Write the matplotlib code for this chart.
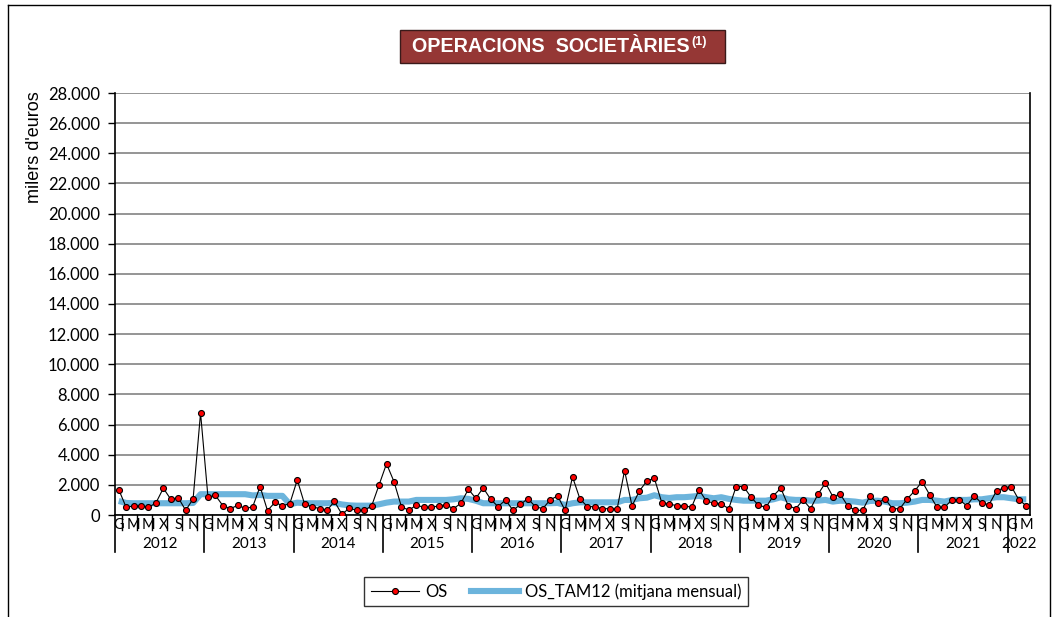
import matplotlib
matplotlib.use("Agg")
import matplotlib.pyplot as plt
from matplotlib.patches import Rectangle
from matplotlib.lines import Line2D
import numpy as np

# ---------------- data ----------------
years = ["2012", "2013", "2014", "2015", "2016", "2017", "2018", "2019", "2020", "2021", "2022"]
month_letters = ["G", "F", "M", "A", "M", "J", "X", "A", "S", "O", "N", "D"]

os_values = [
    1690, 510, 600, 600, 510, 800, 1780, 1040, 1150, 310, 1070, 6770,      # 2012
    1180, 1300, 620, 420, 640, 440, 530, 1890, 290, 840, 620, 750,         # 2013
    2330, 700, 555, 420, 310, 900, 50, 450, 310, 310, 600, 2000,           # 2014
    3400, 2220, 555, 310, 660, 510, 510, 600, 670, 420, 780, 1710,         # 2015
    1110, 1800, 1040, 555, 1000, 310, 700, 1090, 555, 420, 1000, 1270,     # 2016
    310, 2530, 1070, 555, 555, 420, 420, 400, 2950, 600, 1600, 2260,       # 2017
    2440, 820, 730, 620, 620, 510, 1690, 910, 800, 730, 420, 1890,         # 2018
    1890, 1180, 650, 510, 1270, 1780, 620, 420, 1000, 420, 1380, 2130,     # 2019
    1220, 1380, 600, 310, 310, 1270, 780, 1090, 420, 420, 1070, 1600,      # 2020
    2220, 1350, 510, 510, 1000, 1000, 620, 1270, 780, 690, 1600, 1800,     # 2021
    1890, 1000, 620,                                                       # 2022
]

tam12_values = [
    930, 800, 780, 780, 780, 780, 780, 780, 780, 780, 800, 1380,
    1380, 1380, 1380, 1380, 1380, 1380, 1300, 1330, 1270, 1270, 1270, 710,
    820, 780, 780, 780, 780, 800, 700, 640, 620, 620, 620, 710,
    820, 890, 890, 890, 1000, 1000, 1000, 1000, 1000, 1040, 1110, 1070,
    950, 780, 780, 780, 780, 780, 780, 780, 780, 780, 780, 800,
    670, 780, 840, 840, 840, 840, 840, 840, 1000, 1000, 1110, 1150,
    1310, 1180, 1130, 1180, 1180, 1220, 1270, 1180, 1110, 1180, 1070, 1000,
    950, 950, 950, 950, 1040, 1180, 1040, 1000, 1000, 950, 950, 1000,
    890, 950, 930, 890, 820, 930, 950, 890, 780, 780, 820, 890,
    1000, 1000, 950, 890, 1000, 1000, 1000, 1040, 1040, 1110, 1180, 1180,
    1110, 1040, 1040,
]

y_ticks = list(range(0, 28001, 2000))
y_tick_labels = [f"{v:,}".replace(",", ".") for v in y_ticks]

title_text = "OPERACIONS  SOCIETÀRIES"
y_label = "milers d'euros"
legend_labels = ["OS", "OS_TAM12 (mitjana mensual)"]

# ---------------- figure ----------------
W, H = 1059, 617
fig = plt.figure(figsize=(W / 100, H / 100), dpi=100)
fig.patch.set_facecolor("white")

# outer border (bottom edge lies below the image)
fig.add_artist(Line2D([8 / W, 1050 / W], [1 - 5 / H, 1 - 5 / H], transform=fig.transFigure, color="black", lw=1))
fig.add_artist(Line2D([8 / W, 8 / W], [1 - 5 / H, 0], transform=fig.transFigure, color="black", lw=1))
fig.add_artist(Line2D([1050 / W, 1050 / W], [1 - 5 / H, 0], transform=fig.transFigure, color="black", lw=1))

left, right, top, bottom = 115, 1030, 93, 515
ax = fig.add_axes([left / W, 1 - bottom / H, (right - left) / W, (bottom - top) / H])

n = len(os_values)
x = np.arange(n)

ax.plot(x, tam12_values, color="#6cb4dc", lw=4.4, solid_capstyle="butt", zorder=2)
ax.plot(x, os_values, color="black", lw=0.8, marker="o", markersize=4.3,
        markerfacecolor="#ff0000", markeredgecolor="black", markeredgewidth=0.8, zorder=3)

ax.set_xlim(-0.5, n - 0.5)
ax.set_ylim(0, 28000)

tick_font = "Lato"
ax.set_yticks(y_ticks)
ax.set_yticklabels(y_tick_labels, fontsize=12, fontname=tick_font)
ax.tick_params(axis="y", direction="out", length=5, width=1, pad=6)
ax.yaxis.grid(True, color="#8c8c8c", lw=1.3)
ax.set_axisbelow(True)

for s in ["left", "bottom", "right"]:
    ax.spines[s].set_color("black")
    ax.spines[s].set_linewidth(1.2)
ax.spines["top"].set_visible(False)

# month labels at odd months (G, M, M, X, S, N)
label_pos = [i for i in range(n) if i % 2 == 0]
ax.set_xticks(label_pos)
ax.set_xticklabels([month_letters[i % 12] for i in label_pos], fontsize=10.5, fontname=tick_font)
ax.tick_params(axis="x", length=0, pad=2.5)

# separators
xt = ax.get_xaxis_transform()
short = 15 / (bottom - top)
long_ = 37 / (bottom - top)
for k in range(1, n):
    if k % 12 == 0:
        ax.plot([k - 0.5, k - 0.5], [0, -long_], transform=xt, color="black", lw=1.2, clip_on=False)
    elif k % 2 == 1:
        ax.plot([k - 0.5, k - 0.5], [0, -short], transform=xt, color="black", lw=1.0, clip_on=False)
ax.plot([-0.5, -0.5], [0, -long_], transform=xt, color="black", lw=1.2, clip_on=False)

# year labels
for yi, yr in enumerate(years):
    start = yi * 12
    end = min(start + 12, n)
    ax.text((start + end - 1) / 2, -29 / (bottom - top), yr, transform=xt, ha="center", va="center",
            fontsize=11, fontname=tick_font)

ax.text(-0.088, 1.005, y_label, transform=ax.transAxes, rotation=90, ha="center", va="top",
        fontsize=13, fontname="Liberation Sans")

# title box
bx0, bx1, by0, by1 = 400, 725, 30, 63
fig.add_artist(Rectangle((bx0 / W, 1 - by1 / H), (bx1 - bx0) / W, (by1 - by0) / H,
                         transform=fig.transFigure, facecolor="#953735", edgecolor="#3a1a1a", lw=1))
fig.text(551 / W, 1 - 47 / H, title_text, ha="center", va="center", color="white",
         fontsize=14.2, fontweight="bold", fontname="Liberation Sans")
fig.text(691 / W, 1 - 42 / H, "(1)", ha="left", va="center", color="white",
         fontsize=9, fontweight="bold", fontname="Liberation Sans")

# legend
h1 = Line2D([], [], color="black", lw=0.8, marker="o", markersize=4.3,
            markerfacecolor="#ff0000", markeredgecolor="black", markeredgewidth=0.8)
h2 = Line2D([], [], color="#6cb4dc", lw=4.4)
leg = fig.legend([h1, h2], legend_labels, loc="center", bbox_to_anchor=(556 / W, 1 - 591.5 / H),
                 ncol=2, frameon=True, fancybox=False, edgecolor="black",
                 handlelength=2.9, columnspacing=1.4, handletextpad=0.35, borderpad=0.4,
                 borderaxespad=0, prop={"family": tick_font, "size": 12})
leg.get_frame().set_linewidth(1.0)

fig.savefig("out.png", dpi=100)
